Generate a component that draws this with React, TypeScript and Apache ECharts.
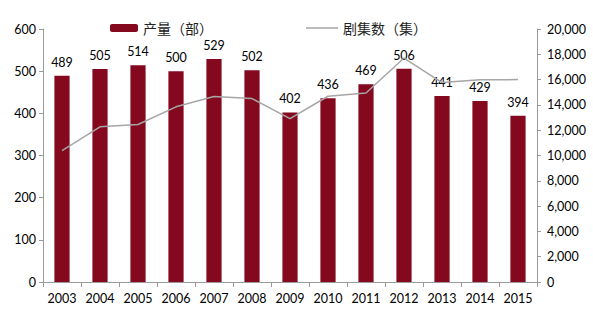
import React, { useEffect, useRef } from "react";
import * as echarts from "echarts";

const years = ["2003","2004","2005","2006","2007","2008","2009","2010","2011","2012","2013","2014","2015"];
const output = [489, 505, 514, 500, 529, 502, 402, 436, 469, 506, 441, 429, 394];
const episodes = [10381, 12265, 12447, 13847, 14670, 14498, 12910, 14685, 14942, 17703, 15770, 15983, 16000];

const barName = "产量（部）";
const lineName = "剧集数（集）";

export default function App() {
  const ref = useRef<HTMLDivElement>(null);
  useEffect(() => {
    const chart = echarts.init(ref.current!, null, { renderer: "svg" });
    const numFont = "Lato, 'Open Sans', sans-serif";
    const cjkFont = "'Noto Sans CJK SC', sans-serif";
    chart.setOption({
      animation: false,
      backgroundColor: "#ffffff",
      textStyle: { fontFamily: numFont },
      legend: [
        {
          data: [barName],
          left: 110,
          top: 21,
          padding: 0,
          itemWidth: 28,
          itemHeight: 8,
          itemGap: 5,
          textStyle: { fontFamily: cjkFont, fontSize: 14, lineHeight: 14, color: "#222" },
        },
        {
          data: [{ name: lineName, icon: "rect" }],
          left: 306,
          top: 21,
          padding: 0,
          itemWidth: 32,
          itemHeight: 1.5,
          textStyle: { fontFamily: cjkFont, fontSize: 14, lineHeight: 14, color: "#222" },
        },
      ],
      grid: { left: 43, right: 56, top: 29, bottom: 43, containLabel: false },
      xAxis: {
        type: "category",
        data: years,
        axisLine: { lineStyle: { color: "#9a9a9a" } },
        axisTick: { show: true, alignWithLabel: false, interval: 0, length: 5, lineStyle: { color: "#9a9a9a" } },
        axisLabel: { color: "#000", fontSize: 12.5, margin: 10, interval: 0, fontFamily: numFont },
      },
      yAxis: [
        {
          type: "value",
          min: 0,
          max: 600,
          interval: 100,
          position: "left",
          axisLine: { show: true, lineStyle: { color: "#9a9a9a" } },
          axisTick: { show: true, length: 4, lineStyle: { color: "#9a9a9a" } },
          splitLine: { show: false },
          axisLabel: { color: "#000", fontSize: 12.5, margin: 7, fontFamily: numFont },
        },
        {
          type: "value",
          min: 0,
          max: 20000,
          interval: 2000,
          position: "right",
          axisLine: { show: true, lineStyle: { color: "#9a9a9a" } },
          axisTick: { show: true, length: 4, lineStyle: { color: "#9a9a9a" } },
          splitLine: { show: false },
          axisLabel: {
            color: "#000",
            fontSize: 12.5,
            margin: 10,
            fontFamily: numFont,
            formatter: (v: number) => v.toLocaleString("en-US"),
          },
        },
      ],
      series: [
        {
          name: barName,
          type: "bar",
          data: output,
          yAxisIndex: 0,
          barWidth: "40%",
          itemStyle: { color: "#84091F" },
          label: {
            show: true,
            position: "top",
            distance: 7,
            color: "#000",
            fontSize: 12.5,
            lineHeight: 13,
            fontFamily: numFont,
          },
        },
        {
          name: lineName,
          type: "line",
          data: episodes,
          yAxisIndex: 1,
          symbol: "none",
          lineStyle: { color: "#a6a6a6", width: 1.5 },
          itemStyle: { color: "#a6a6a6" },
        },
      ],
    });
    return () => chart.dispose();
  }, []);
  return (
    <div
      ref={ref}
      style={{ position: "absolute", left: 0, top: 0, width: 593, height: 325 }}
    />
  );
}
